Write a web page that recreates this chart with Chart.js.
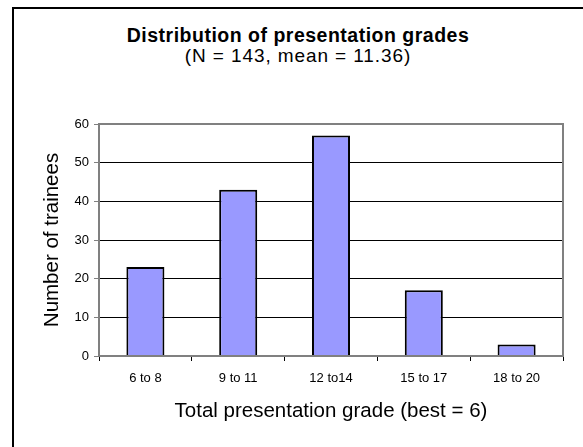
<!DOCTYPE html>
<html>
<head>
<meta charset="utf-8">
<script src="https://cdn.jsdelivr.net/npm/chart.js@4"></script>
<style>
  body { margin: 0; background: #fff; }
  #wrap { position: relative; width: 583px; height: 447px; overflow: hidden;
          font-family: 'Liberation Sans', Arial, sans-serif; color: #000; }
  #frame { position: absolute; left: 12px; top: 7px; width: 600px; height: 460px;
           border-left: 2px solid #000; border-top: 2px solid #000; }
  canvas { position: absolute; left: 0; top: 0; }
  .head { position: absolute; left: 298px; transform: translateX(-50%);
          white-space: nowrap; line-height: 1; }
  #title { top: 25.5px; font-size: 19.5px; font-weight: bold; letter-spacing: 0.5px; }
  #subtitle { top: 46px; font-size: 19px; letter-spacing: 0.9px; }
</style>
</head>
<body>
<div id="wrap">
  <div id="frame"></div>
  <div class="head" id="title">Distribution of presentation grades</div>
  <div class="head" id="subtitle">(N = 143, mean = 11.36)</div>
  <canvas id="grades" width="583" height="447"></canvas>
</div>
<script>
// Presentation grade bins and number of trainees in each
const gradeBins = ["6 to 8", "9 to 11", "12 to14", "15 to 17", "18 to 20"];
const trainees = [23, 43, 57, 17, 3];
const yTicks = [0, 10, 20, 30, 40, 50, 60];

const font = "'Liberation Sans', Arial, sans-serif";

// gray frame around the plot area
const plotBorder = {
    id: "plotBorder",
    afterDraw(chart) {
        const a = chart.chartArea, c = chart.ctx;
        c.save();
        c.strokeStyle = "#808080";
        c.lineWidth = 2;
        c.strokeRect(a.left, a.top, a.right - a.left, a.bottom - a.top);
        c.restore();
    }
};

new Chart("grades", {
    type: "bar",
    data: {
        labels: gradeBins,
        datasets: [{
            label: "Trainees",
            data: trainees,
            backgroundColor: "#9999FF",
            borderColor: "#000",
            borderWidth: 2,
            barPercentage: 0.41,
            categoryPercentage: 1
        }]
    },
    options: {
        responsive: false,
        animation: false,
        layout: { padding: { left: 0, right: 20, top: 124, bottom: 0 } },
        plugins: {
            legend: { display: false },
            tooltip: { enabled: false }
        },
        scales: {
            x: {
                afterFit: s => { s.height = 91; },
                grid: {
                    offset: true,
                    drawOnChartArea: false,
                    tickLength: 5,
                    color: "#000"
                },
                border: { color: "#808080", width: 2 },
                ticks: { color: "#000", font: { family: font, size: 13 }, padding: 10 },
                title: {
                    display: true,
                    text: "Total presentation grade (best = 6)",
                    color: "#000",
                    font: { family: font, size: 20.5 },
                    padding: { top: 0, bottom: 23 }
                }
            },
            y: {
                min: 0,
                max: 60,
                afterFit: s => { s.width = 99; },
                afterBuildTicks: s => { s.ticks = yTicks.map(v => ({ value: v })); },
                grid: {
                    color: "#000",
                    tickColor: "#808080",
                    tickLength: 5,
                    drawTicks: true
                },
                border: { color: "#808080", width: 2 },
                ticks: { color: "#000", font: { family: font, size: 13 }, padding: 5 },
                title: {
                    display: true,
                    text: "Number of trainees",
                    color: "#000",
                    font: { family: font, size: 20.5 },
                    padding: { top: 40, bottom: 0 }
                }
            }
        }
    },
    plugins: [plotBorder]
});
</script>
</body>
</html>
